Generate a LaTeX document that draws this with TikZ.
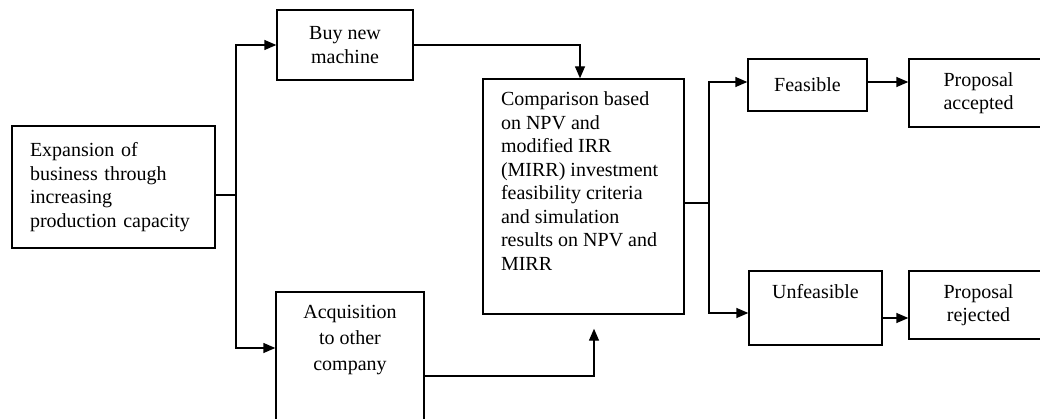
\documentclass[tikz,border=0pt]{standalone}
\usepackage{fontspec}
\setmainfont{Liberation Serif}
\usetikzlibrary{arrows.meta}
\newcommand{\toptext}[3]{\parbox[c][#1][t]{#2}{\vspace*{13pt}#3}}
\begin{document}
\begin{tikzpicture}[x=1pt,y=-1pt,
    >={Triangle[length=12pt,width=10pt]},
    every path/.style={line width=1.4pt},
    box/.style={draw,rectangle,inner sep=0pt,align=center},
    font=\fontsize{20pt}{23.5pt}\selectfont]
    \useasboundingbox (0,0) rectangle (1040,419);
    \node[box,minimum width=203pt,minimum height=122pt,inner xsep=18pt,text width=167pt,align=left] (exp) at (113.5,187) {Expansion of\\business through\\increasing\\production capacity};
    \node[box,minimum width=136pt,minimum height=70pt] (buy) at (345,45) {Buy new\\machine};
    \node[box] (acq) at (350,358.5) {\toptext{133pt}{148pt}{\centering\fontsize{20pt}{26pt}\selectfont Acquisition\\to other\\company}};
    \node[box,inner xsep=18pt] (cmp) at (583.5,196.5) {\toptext{235pt}{165pt}{\raggedright Comparison based\\on NPV and\\modified IRR\\(MIRR) investment\\feasibility criteria\\and simulation\\results on NPV and\\MIRR}};
    \node[box,minimum width=119pt,minimum height=52pt] (feas) at (807.5,85) {Feasible};
    \node[box,minimum width=139pt,minimum height=68pt] (acc) at (978.5,93) {Proposal\\accepted};
    \node[box] (unf) at (815.5,308) {\toptext{74pt}{133pt}{\centering Unfeasible}};
    \node[box,minimum width=139pt,minimum height=68pt] (rej) at (978.5,305) {Proposal\\rejected};
    \coordinate (fork) at (236,195);
    \coordinate (join) at (709,203);
    \draw (exp.east |- fork) -- (fork);
    \draw[->] (fork) |- (buy.west);
    \draw[->] (fork) |- ([yshift=10.5pt]acq.west);
    \draw[->] (buy.east) -| ([xshift=-3.5pt]cmp.north);
    \draw[->] ([yshift=-17.5pt]acq.east) -| ([xshift=10.5pt,yshift=-14pt]cmp.south);
    \draw (cmp.east |- join) -- (join);
    \draw[->] (join) |- ([yshift=3pt]feas.west);
    \draw[->] (join) |- ([yshift=-5pt]unf.west);
    \draw[->] ([yshift=3pt]feas.east) -- ([yshift=11pt]acc.west);
    \draw[->] ([yshift=-10pt]unf.east) -- ([yshift=-13pt]rej.west);
\end{tikzpicture}
\end{document}
